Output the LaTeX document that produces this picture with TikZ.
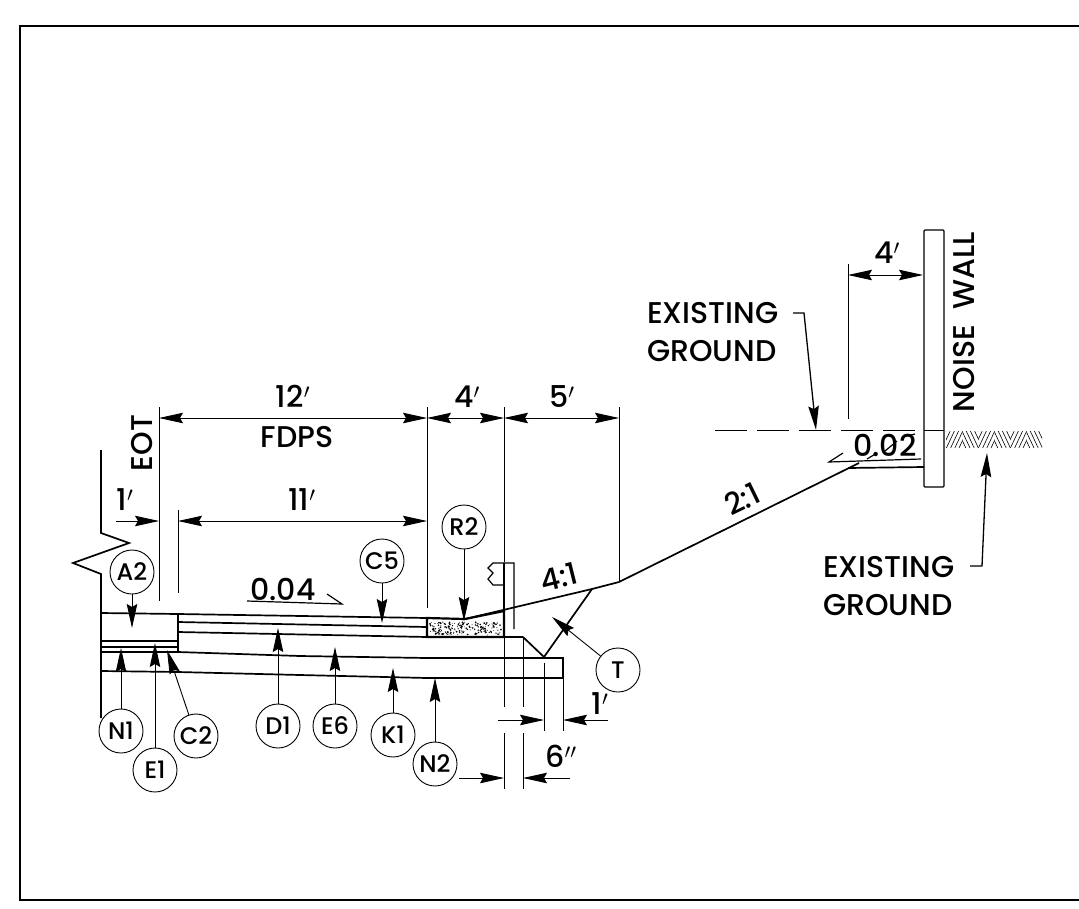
\documentclass[tikz,border=0pt]{standalone}
\usepackage{fontspec}
\setmainfont{Poppins Medium}
\usetikzlibrary{arrows.meta, positioning}
\tikzset{
    dimtip/.tip = {Stealth[length=24pt, width=10.5pt, inset=3pt]},
    circlenode/.style = {circle, draw, line width=0.9pt, inner sep = 0em, minimum size=44pt, font=\fontsize{24}{24}\selectfont},
    textnode/.style  = {draw=none, fill=none, rectangle, inner sep = 0em, align=left, font=\fontsize{30}{38}\selectfont},
    extline/.style = {line width=0.9pt},
    dimline/.style = {line width=0.9pt, dimtip-dimtip},
    dimhalf/.style = {line width=0.9pt, -dimtip},
    connect/.style = {line width=1.3pt, -dimtip},
    heavyline/.style = {line width=1.7pt}
}
\begin{document}
\begin{tikzpicture}[x=1pt, y=-1pt]
    \useasboundingbox (0,0) rectangle (1079,908);
    \draw [heavyline] (1079,26) -- (20,26) -- (20,900) -- (1079,900);

    % break line and pavement layers
    \draw [heavyline] (101,450) -- (101,533) -- (129,543) -- (73,563) -- (101,574) -- (101,718);
    \draw [heavyline] (101,613) -- (178,614) -- (427,618);
    \draw [heavyline] (178,622) -- (427,627);
    \draw [heavyline] (178,632) -- (427,637) -- (523,637);
    \draw [heavyline] (178,613) -- (178,653);
    \draw [heavyline] (101,641) -- (178,641);
    \draw [heavyline] (101,647) -- (178,647);
    \draw [heavyline] (101,652) -- (178,652) -- (300,656) -- (427,658) -- (563,658) -- (563,678) -- (427,678) -- (300,675) -- (178,672) -- (101,671);

    % curb with speckle
    \draw [line width=2.2pt] (427,618) -- (465,619) -- (504,611) -- (504,637) -- (427,637) -- cycle;
    \pgfmathsetseed{7}
    \foreach \i in {1,...,190} {
        \pgfmathsetmacro{\dotx}{430+71*rnd}
        \pgfmathsetmacro{\doty}{622+13*rnd}
        \pgfmathsetmacro{\dotr}{0.4+0.6*rnd}
        \fill (\dotx,\doty) circle (\dotr pt);
    }

    % guardrail
    \draw [line width=2.2pt] (504,563) -- (504,637);
    \draw [line width=1.2pt] (514,629) -- (514,563) -- (493,563) -- (488,568) -- (493,573) -- (488,579) -- (493,585) -- (504,585);

    % slopes and ditch
    \draw [heavyline] (465,619) -- (592,589) -- (619,582) -- (859,463);
    \draw [heavyline] (523,637) -- (544,657) -- (592,589);
    \draw [heavyline] (848,468) -- (924,467);

    % noise wall and ground
    \draw [line width=1.2pt, rounded corners=1pt] (924,230) rectangle (944,487);
    \draw [line width=0.9pt] (924,430) -- (944,430);
    \draw [line width=0.9pt, dash pattern=on 32pt off 10pt] (715,430) -- (924,430);
    \foreach \k in {0,...,5} {
        \begin{scope}
            \clip ({946+16*\k},431) rectangle ({946+16*\k+16},448);
            \pgfmathsetmacro{\slant}{8*(2*mod(\k,2)-1)}
            \foreach \j in {-2,...,6} {
                \draw [line width=0.6pt] ({946+16*\k+4.2*\j},431) -- ({946+16*\k+4.2*\j+\slant},448);
            }
        \end{scope}
    }

    % slope marks
    \draw [line width=1.2pt] (247,601) -- (342,604) -- (327,594);
    \draw [line width=1.2pt] (843,453) -- (829,462) -- (921,459);
    \draw [line width=1.2pt] (867,459) -- (877,453);
    \draw [line width=1.2pt] (885,451) -- (897,441);
    \draw [line width=1.2pt] (903,437) -- (915,434);

    % extension lines
    \draw [extline] (159,407) -- (159,601);
    \draw [extline] (178,510) -- (178,593);
    \draw [extline] (427,407) -- (427,608);
    \draw [extline] (504,407) -- (504,562);
    \draw [extline] (619,407) -- (619,582);
    \draw [extline] (848,264) -- (848,419);
    \draw [extline] (504,637) -- (504,707);
    \draw [extline] (504,733) -- (504,789);
    \draw [extline] (523,637) -- (523,707);
    \draw [extline] (523,733) -- (523,789);
    \draw [extline] (544,663) -- (544,731);
    \draw [extline] (563,678) -- (563,731);

    % dimensions
    \coordinate (dimA) at (159,418);
    \coordinate (dimB) at (427,418);
    \coordinate (dimC) at (504,418);
    \coordinate (dimD) at (619,418);
    \coordinate (dimE) at (116,521);
    \coordinate (dimF) at (159,521);
    \coordinate (dimG) at (178,521);
    \coordinate (dimH) at (427,521);
    \coordinate (dimI) at (848,275);
    \coordinate (dimJ) at (923,275);
    \coordinate (dimK) at (498,720);
    \coordinate (dimL) at (544,720);
    \coordinate (dimM) at (608,720);
    \coordinate (dimN) at (563,720);
    \coordinate (dimO) at (459,778);
    \coordinate (dimP) at (504,778);
    \coordinate (dimQ) at (570,778);
    \coordinate (dimR) at (523,778);
    \draw [dimline] (dimA) -- (dimB);
    \draw [dimline] (dimB) -- (dimC);
    \draw [dimline] (dimC) -- (dimD);
    \draw [dimline] (dimG) -- (dimH);
    \draw [dimline] (dimI) -- (dimJ);
    \draw [dimhalf] (dimE) -- (dimF);
    \draw [dimhalf] (dimK) -- (dimL);
    \draw [dimhalf] (dimM) -- (dimN);
    \draw [dimhalf] (dimO) -- (dimP);
    \draw [dimhalf] (dimQ) -- (dimR);

    % labels
    \node [name=twelve, textnode] at (293,396) {12$'$};
    \node [name=fdps, textnode] at (297,437) {FDPS};
    \node [name=eleven, textnode] at (302,500) {11$'$};
    \node [name=onefoot, textnode] at (125,500) {1$'$};
    \node [name=eot, textnode, rotate=90] at (142,443) {EOT};
    \node [name=fourft, textnode] at (467,397) {4$'$};
    \node [name=fiveft, textnode] at (562,397) {5$'$};
    \node [name=fourwall, textnode] at (887,253) {4$'$};
    \node [name=onelow, textnode] at (600,704) {1$'$};
    \node [name=sixin, textnode] at (561,756) {6$''$};
    \node [name=slopeA, textnode] at (283,589) {0.04};
    \node [name=slopeB, textnode] at (885,445) {0.02};
    \node [name=ratioA, textnode, rotate=14] at (559,577) {4:1};
    \node [name=ratioB, textnode, rotate=26] at (742,499) {2:1};
    \node [name=wall, textnode, rotate=90] at (964,322) {NOISE\ \ WALL};
    \node [name=groundA, textnode, anchor=west] at (647,332) {EXISTING\\GROUND};
    \node [name=groundB, textnode, anchor=west] at (823,586) {EXISTING\\GROUND};

    % ground leaders
    \coordinate (leadA) at (793,313);
    \coordinate (bendA) at (804,313);
    \coordinate (tipA) at (816,430);
    \coordinate (leadB) at (970,566);
    \coordinate (bendB) at (982,566);
    \coordinate (tipB) at (987,453);
    \draw [connect] (leadA) -- (bendA) -- (tipA);
    \draw [connect] (leadB) -- (bendB) -- (tipB);

    % callouts
    \node [name=A2, circlenode] at (132,572) {A2};
    \node [name=N1, circlenode] at (121,731) {N1};
    \node [name=E1, circlenode] at (155,770) {E1};
    \node [name=C2, circlenode] at (196,736) {C2};
    \node [name=D1, circlenode] at (278,726) {D1};
    \node [name=E6, circlenode] at (335,726) {E6};
    \node [name=K1, circlenode] at (393,735) {K1};
    \node [name=N2, circlenode] at (435,764) {N2};
    \node [name=C5, circlenode] at (382,561) {C5};
    \node [name=R2, circlenode] at (464,527) {R2};
    \node [name=T, circlenode] at (618,670) {T};
    \coordinate (tipA2) at (132,628);
    \coordinate (tipN1) at (121,648);
    \coordinate (tipE1) at (155,643);
    \coordinate (tipC2) at (167,650);
    \coordinate (tipD1) at (278,628);
    \coordinate (tipE6) at (335,647);
    \coordinate (tipK1) at (393,668);
    \coordinate (tipN2) at (435,678);
    \coordinate (tipC5) at (382,623);
    \coordinate (tipR2) at (464,621);
    \coordinate (tipT) at (552,617);
    \draw [dimhalf] (A2) -- (tipA2);
    \draw [dimhalf] (N1) -- (tipN1);
    \draw [dimhalf] (E1) -- (tipE1);
    \draw [dimhalf] (C2) -- (tipC2);
    \draw [dimhalf] (D1) -- (tipD1);
    \draw [dimhalf] (E6) -- (tipE6);
    \draw [dimhalf] (K1) -- (tipK1);
    \draw [dimhalf] (N2) -- (tipN2);
    \draw [dimhalf] (C5) -- (tipC5);
    \draw [dimhalf] (R2) -- (tipR2);
    \draw [dimhalf] (T) -- (tipT);
\end{tikzpicture}
\end{document}
